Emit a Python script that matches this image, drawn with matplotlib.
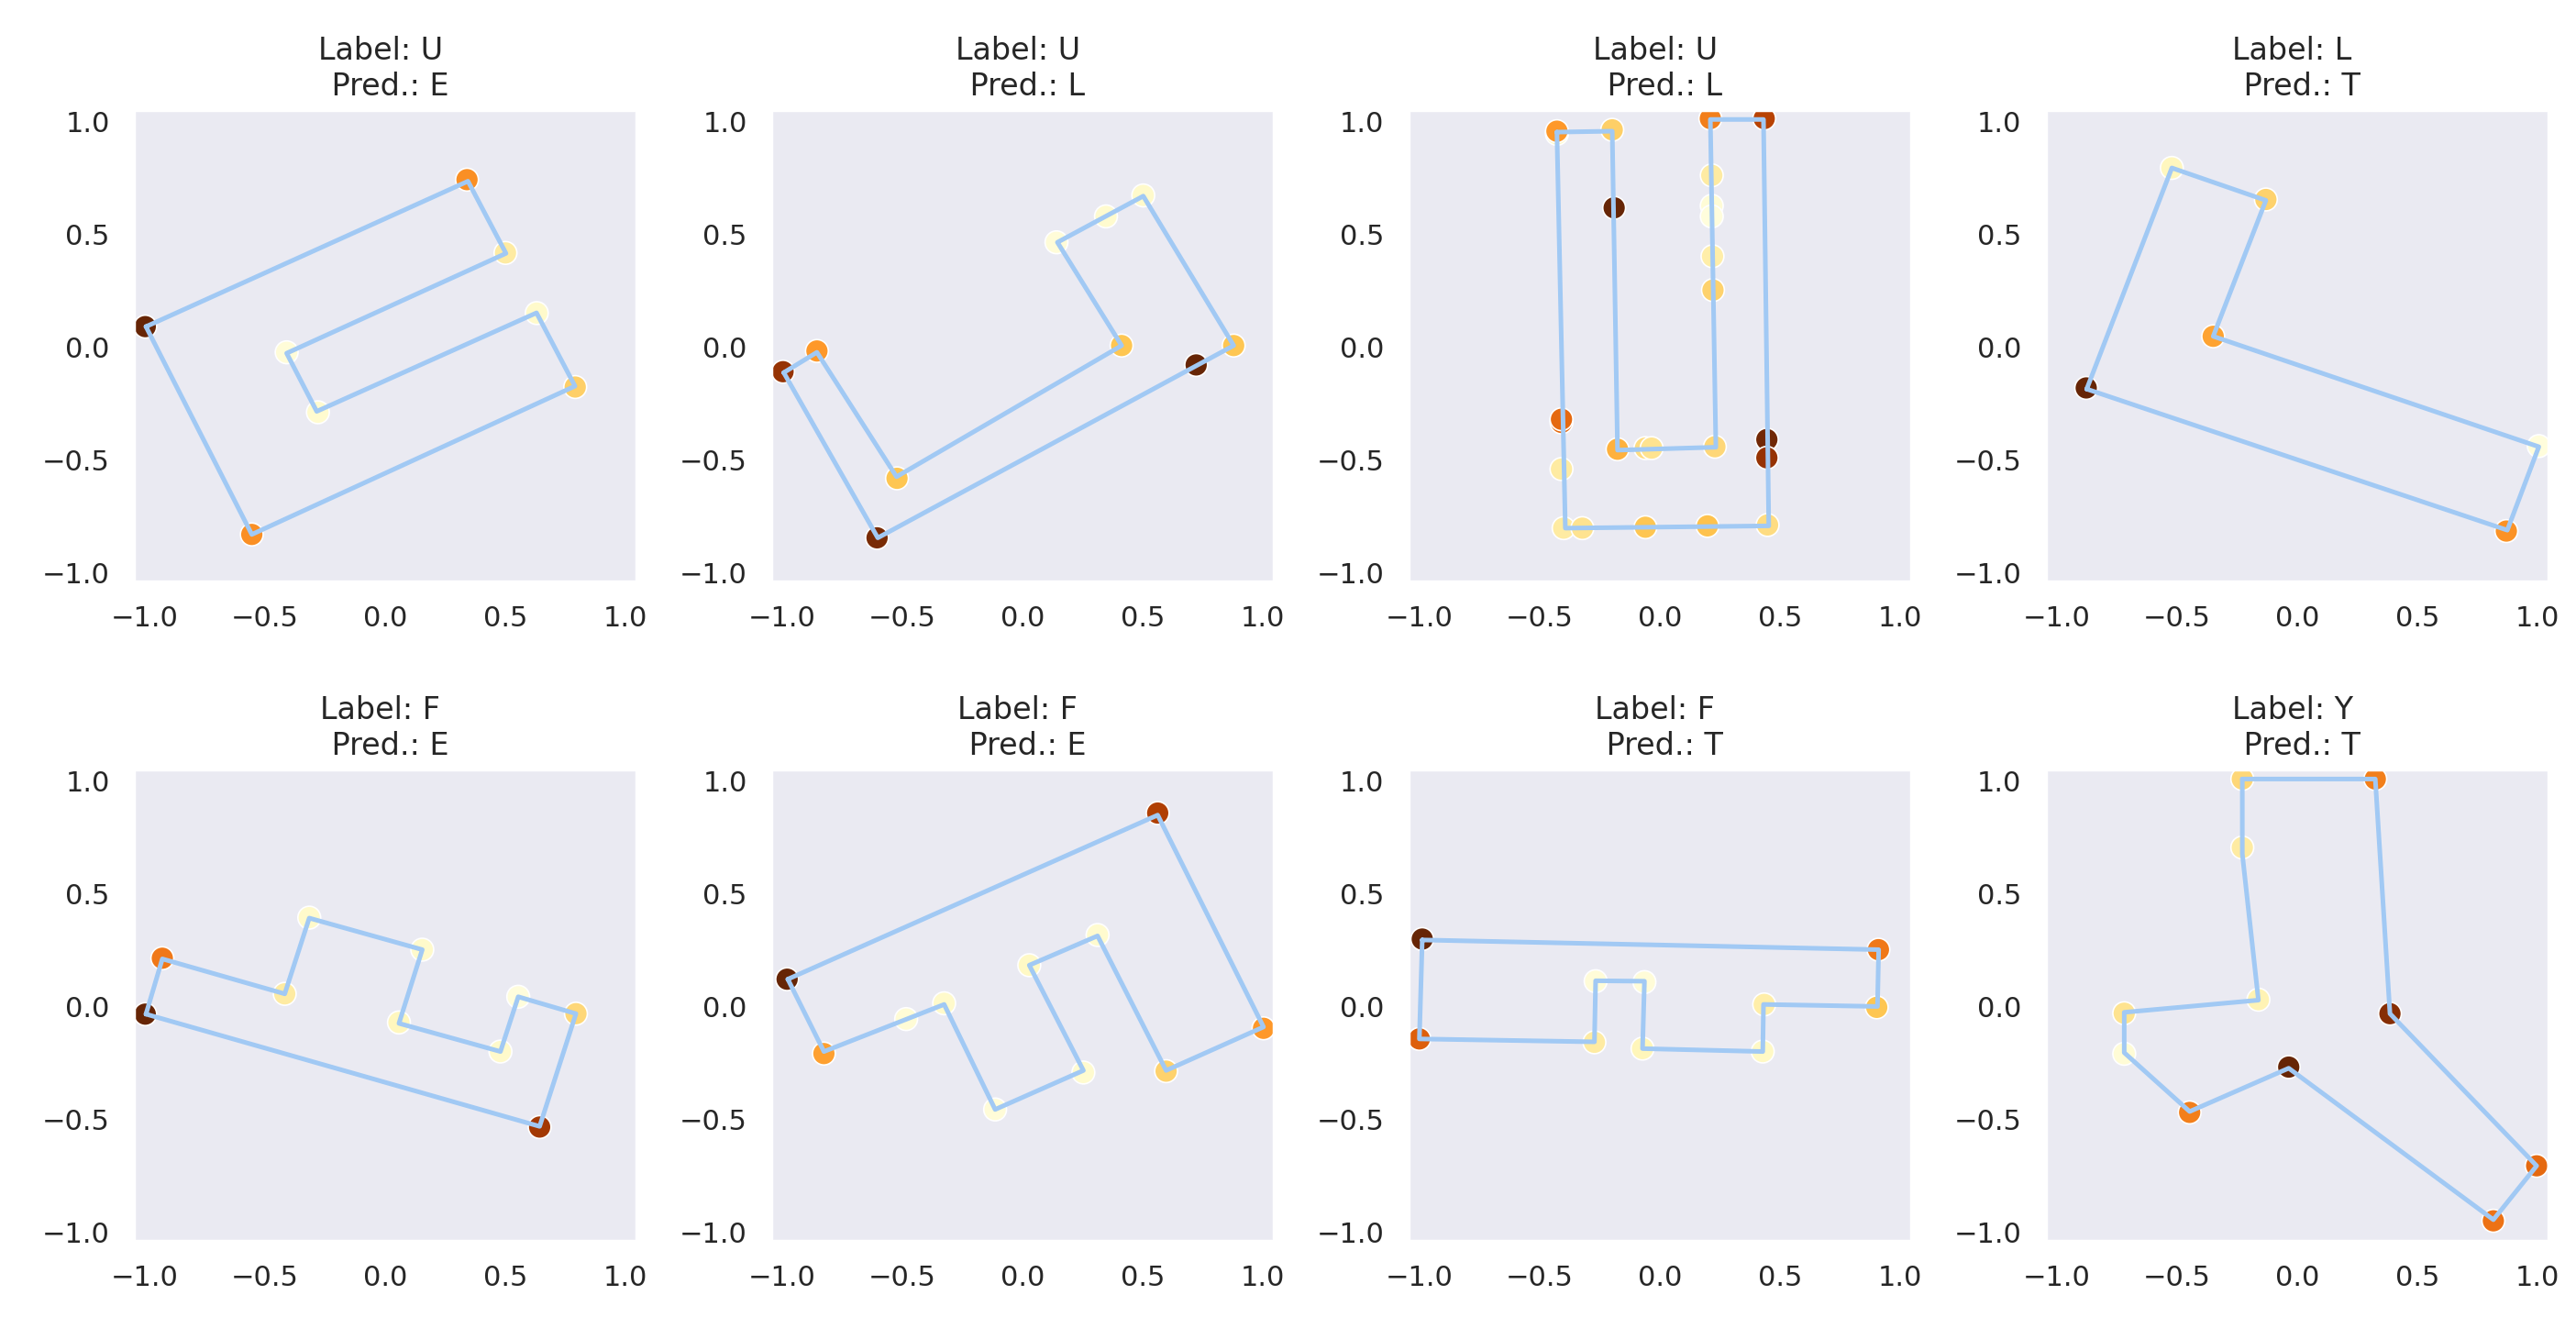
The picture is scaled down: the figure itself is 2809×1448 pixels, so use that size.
import matplotlib
matplotlib.use("Agg")
import matplotlib.pyplot as plt
import seaborn as sns

# labels / predictions per panel
labels = ["U", "U", "U", "L", "F", "F", "F", "Y"]
preds = ["E", "L", "L", "T", "E", "E", "T", "T"]

# outline polygons (closed when drawn)
line_x = [
    [-0.995, 0.344, 0.502, -0.41, -0.285, 0.629, 0.789, -0.555],
    [-0.993, -0.855, -0.524, 0.412, 0.145, 0.502, 0.878, -0.602],
    [-0.428, -0.198, -0.176, 0.233, 0.21, 0.431, 0.453, -0.393],
    [-0.875, -0.521, -0.13, -0.349, 1.005, 0.874],
    [-0.995, -0.927, -0.418, -0.316, 0.154, 0.057, 0.479, 0.553, 0.793, 0.642],
    [-0.976, -0.826, -0.326, -0.114, 0.253, 0.028, 0.312, 0.597, 1.002, 0.562],
    [-0.988, 0.91, 0.905, 0.431, 0.428, -0.072, -0.064, -0.267, -0.272, -1.0],
    [-0.228, 0.325, 0.386, 0.996, 0.816, -0.035, -0.447, -0.719, -0.719, -0.161, -0.228],
]
line_y = [
    [0.09, 0.735, 0.415, -0.028, -0.286, 0.151, -0.174, -0.832],
    [-0.114, -0.024, -0.576, 0.006, 0.464, 0.669, 0.006, -0.847],
    [0.953, 0.957, -0.458, -0.445, 1.009, 1.009, -0.794, -0.804],
    [-0.187, 0.794, 0.65, 0.047, -0.443, -0.813],
    [-0.034, 0.211, 0.056, 0.392, 0.252, -0.075, -0.2, 0.043, -0.032, -0.532],
    [0.121, -0.2, 0.009, -0.457, -0.284, 0.183, 0.313, -0.284, -0.091, 0.849],
    [0.295, 0.252, 0.0, 0.009, -0.2, -0.187, 0.112, 0.114, -0.157, -0.144],
    [1.009, 1.009, -0.032, -0.707, -0.946, -0.274, -0.466, -0.205, -0.026, 0.028, 0.677],
]

# sampled points with their hue value
pts_x = [
    [-0.998, 0.34, 0.50, -0.41, -0.28, 0.63, 0.79, -0.555],
    [-0.996, -0.855, -0.522, 0.412, 0.141, 0.347, 0.502, 0.878, 0.722, -0.605],
    [-0.428, -0.428, -0.198, -0.19, 0.21, 0.434, 0.216, 0.216, 0.216, 0.219, 0.221,
     -0.409, -0.409, -0.409, -0.176, -0.06, -0.034, 0.229, 0.445, 0.445,
     -0.4, -0.322, -0.06, 0.198, 0.448],
    [-0.877, -0.521, -0.13, -0.349, 1.005, 0.87],
    [-0.998, -0.927, -0.418, -0.316, 0.154, 0.057, 0.479, 0.553, 0.793, 0.642],
    [-0.979, -0.826, -0.484, -0.326, -0.114, 0.253, 0.028, 0.312, 0.597, 1.002, 0.562],
    [-0.988, 0.909, 0.902, 0.434, 0.428, -0.072, -0.064, -0.267, -0.272, -1.0],
    [-0.228, 0.325, -0.228, -0.161, -0.719, -0.719, 0.386, -0.035, -0.447, 0.996, 0.816],
]
pts_y = [
    [0.09, 0.742, 0.417, -0.024, -0.29, 0.15, -0.178, -0.832],
    [-0.11, -0.018, -0.583, 0.006, 0.464, 0.579, 0.672, 0.006, -0.08, -0.847],
    [0.945, 0.957, 0.963, 0.617, 1.013, 1.013, 0.761, 0.626, 0.579, 0.402, 0.252,
     -0.335, -0.321, -0.542, -0.454, -0.449, -0.449, -0.443, -0.411, -0.492,
     -0.804, -0.804, -0.8, -0.794, -0.79],
    [-0.182, 0.794, 0.654, 0.047, -0.44, -0.817],
    [-0.034, 0.214, 0.056, 0.394, 0.252, -0.071, -0.2, 0.043, -0.032, -0.535],
    [0.121, -0.209, -0.056, 0.014, -0.457, -0.293, 0.183, 0.317, -0.287, -0.097, 0.858],
    [0.299, 0.252, -0.004, 0.009, -0.2, -0.187, 0.108, 0.112, -0.159, -0.144],
    [1.009, 1.009, 0.705, 0.03, -0.03, -0.21, -0.032, -0.269, -0.47, -0.707, -0.951],
]
pts_hue = [
    [1.0, 0.53, 0.2, 0.04, 0.07, 0.08, 0.33, 0.53],
    [0.88, 0.5, 0.37, 0.37, 0.04, 0.07, 0.08, 0.37, 1.0, 0.95],
    [0.1, 0.5, 0.33, 1.0, 0.58, 0.8, 0.2, 0.05, 0.03, 0.18, 0.32,
     0.65, 0.65, 0.2, 0.43, 0.28, 0.25, 0.3, 0.97, 0.88,
     0.2, 0.25, 0.37, 0.38, 0.28],
    [1.0, 0.12, 0.32, 0.47, 0.03, 0.52],
    [1.0, 0.6, 0.2, 0.08, 0.08, 0.12, 0.08, 0.03, 0.3, 0.85],
    [1.0, 0.48, 0.05, 0.08, 0.04, 0.07, 0.1, 0.07, 0.32, 0.5, 0.82],
    [1.0, 0.6, 0.37, 0.18, 0.1, 0.13, 0.04, 0.04, 0.2, 0.68],
    [0.3, 0.58, 0.2, 0.15, 0.25, 0.05, 0.92, 1.0, 0.58, 0.65, 0.62],
]

sns.set_theme(style="dark")
line_color = sns.color_palette("pastel")[0]

fig, axes = plt.subplots(2, 4, figsize=(14.045, 7.24), dpi=200)
fig.subplots_adjust(left=0.052, right=0.9893, top=0.917, bottom=0.0656,
                    wspace=0.268, hspace=0.40)

for i, ax in enumerate(axes.flat):
    ax.scatter(pts_x[i], pts_y[i], c=pts_hue[i], cmap="YlOrBr", vmin=0, vmax=1,
               s=80, edgecolor="white", linewidth=0.6, zorder=2)
    xs = line_x[i] + [line_x[i][0]]
    ys = line_y[i] + [line_y[i][0]]
    ax.plot(xs, ys, color=line_color, lw=1.8, zorder=3)
    ax.set_xlim(-1.045, 1.045)
    ax.set_ylim(-1.04, 1.05)
    ax.set_xticks([-1.0, -0.5, 0.0, 0.5, 1.0])
    ax.set_yticks([-1.0, -0.5, 0.0, 0.5, 1.0])
    ax.set_title(f"Label: {labels[i]} \n Pred.: {preds[i]}")

fig.savefig("out.png", dpi=200)
